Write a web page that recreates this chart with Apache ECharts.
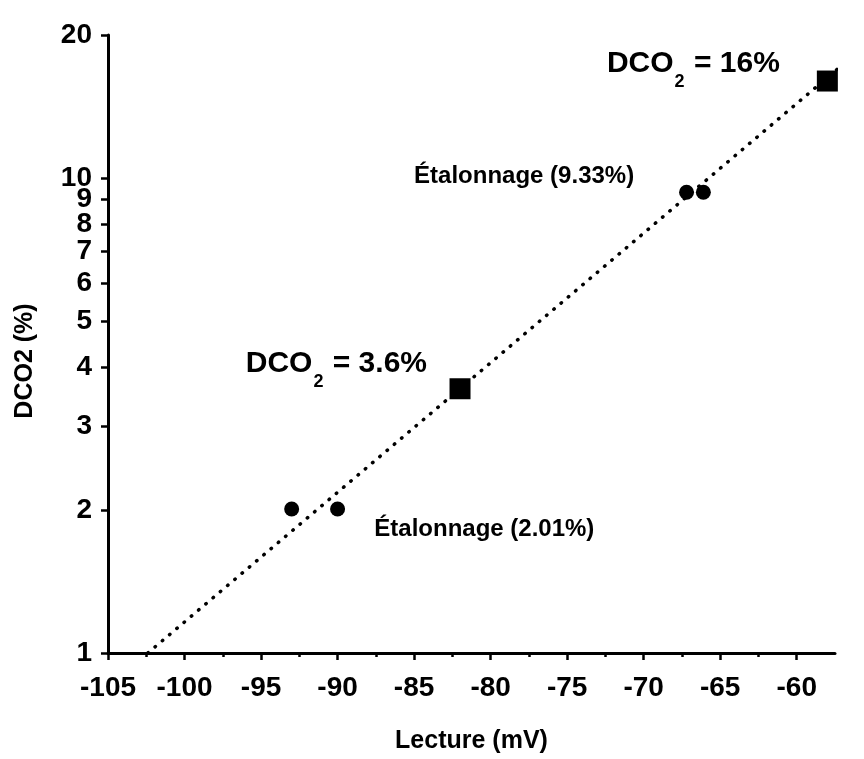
<!DOCTYPE html>
<html>
<head>
<meta charset="utf-8">
<script src="https://cdn.jsdelivr.net/npm/echarts@6/dist/echarts.min.js"></script>
<style>html,body{margin:0;padding:0;background:#fff;}#c{width:864px;height:759px;}</style>
</head>
<body>
<div id="c"></div>
<script>
// ---- data ----
const xMajorTicks = [-105, -100, -95, -90, -85, -80, -75, -70, -65, -60];
const xMinorTicks = [-102.5, -97.5, -92.5, -87.5, -82.5, -77.5, -72.5, -67.5, -62.5];
const yTicks = [1, 2, 3, 4, 5, 6, 7, 8, 9, 10, 20];

const calibLowX = [-93, -90];
const calibLowY = [2.01, 2.01];
const calibHighX = [-67.2, -66.1];
const calibHighY = [9.33, 9.33];
const sampleX = [-82, -58];
const sampleY = [3.6, 16];
const fitX = [-102.4, -55.7];
const fitY = [1, 18.8];

const annX = [-72.4, -85.0, -96.0, -87.6];
const annY = [17.2, 10.07, 4.02, 1.82];
const annText = [
  '{b|DCO}{s|2}{b| = 16%}',
  '{m|Étalonnage (9.33%)}',
  '{b|DCO}{s|2}{b| = 3.6%}',
  '{m|Étalonnage (2.01%)}'
];

const zip = (xs, ys) => xs.map((x, i) => [x, ys[i]]);

const FONT = '"Liberation Sans", Arial, sans-serif';
const chart = echarts.init(document.getElementById('c'), null, {renderer: 'canvas'});
chart.setOption({
  backgroundColor: '#fff',
  animation: false,
  grid: {left: 108, right: 29, top: 35, bottom: 104, containLabel: false},
  xAxis: [{
    type: 'value', min: -105, max: -57.5,
    axisLine: {show: true, onZero: false, lineStyle: {color: '#000', width: 3}},
    axisTick: {show: true, inside: false, length: 7, lineStyle: {color: '#000', width: 2.5}, customValues: xMajorTicks},
    axisLabel: {show: true, customValues: xMajorTicks, margin: 21, color: '#000', fontSize: 28, fontWeight: 'bold', fontFamily: FONT},
    splitLine: {show: false},
    name: 'Lecture (mV)', nameLocation: 'middle', nameGap: 76,
    nameTextStyle: {color: '#000', fontSize: 25, fontWeight: 'bold', fontFamily: FONT}
  }, {
    type: 'value', min: -105, max: -57.5, position: 'bottom',
    axisLine: {show: false},
    axisTick: {show: true, inside: false, length: 4, lineStyle: {color: '#000', width: 2.5}, customValues: xMinorTicks},
    axisLabel: {show: false},
    splitLine: {show: false}
  }],
  yAxis: {
    type: 'log', logBase: 10, min: 1, max: 20,
    axisLine: {show: true, onZero: false, lineStyle: {color: '#000', width: 3}},
    axisTick: {show: true, inside: false, length: 7, lineStyle: {color: '#000', width: 2.5}, customValues: yTicks},
    axisLabel: {show: true, customValues: yTicks, margin: 16, color: '#000', fontSize: 28, fontWeight: 'bold', fontFamily: FONT},
    splitLine: {show: false},
    minorTick: {show: false},
    name: 'DCO2 (%)', nameLocation: 'middle', nameGap: 70, nameRotate: 90,
    nameTextStyle: {color: '#000', fontSize: 25, fontWeight: 'bold', fontFamily: FONT, padding: [0, 34, 0, 0]}
  },
  series: [{
    type: 'line', data: zip(fitX, fitY), showSymbol: false, symbol: 'none', clip: false, z: 1,
    lineStyle: {color: '#000', width: 3.5, type: [0.5, 9], cap: 'round'}
  }, {
    type: 'scatter', data: zip(calibLowX, calibLowY), symbol: 'circle', symbolSize: 15, z: 3,
    itemStyle: {color: '#000', opacity: 1}
  }, {
    type: 'scatter', data: zip(calibHighX, calibHighY), symbol: 'circle', symbolSize: 15, z: 3,
    itemStyle: {color: '#000', opacity: 1}
  }, {
    type: 'scatter', data: zip(sampleX, sampleY), symbol: 'rect', symbolSize: 21, z: 3,
    itemStyle: {color: '#000', opacity: 1}
  }, {
    type: 'scatter', data: annX.map((x, i) => ({value: [x, annY[i]], label: {formatter: annText[i]}})),
    symbolSize: 0, z: 4, silent: true,
    itemStyle: {color: '#000', opacity: 1},
    label: {
      show: true, position: 'right', distance: 0, color: '#000', opacity: 1,
      rich: {
        b: {fontSize: 30, fontWeight: 'bold', fontFamily: FONT, color: '#000', verticalAlign: 'top', lineHeight: 34},
        s: {fontSize: 18, fontWeight: 'bold', fontFamily: FONT, color: '#000', verticalAlign: 'top', lineHeight: 18, padding: [24, 1, 0, 1]},
        m: {fontSize: 24, fontWeight: 'bold', fontFamily: FONT, color: '#000'}
      }
    }
  }]
});
</script>
</body>
</html>
